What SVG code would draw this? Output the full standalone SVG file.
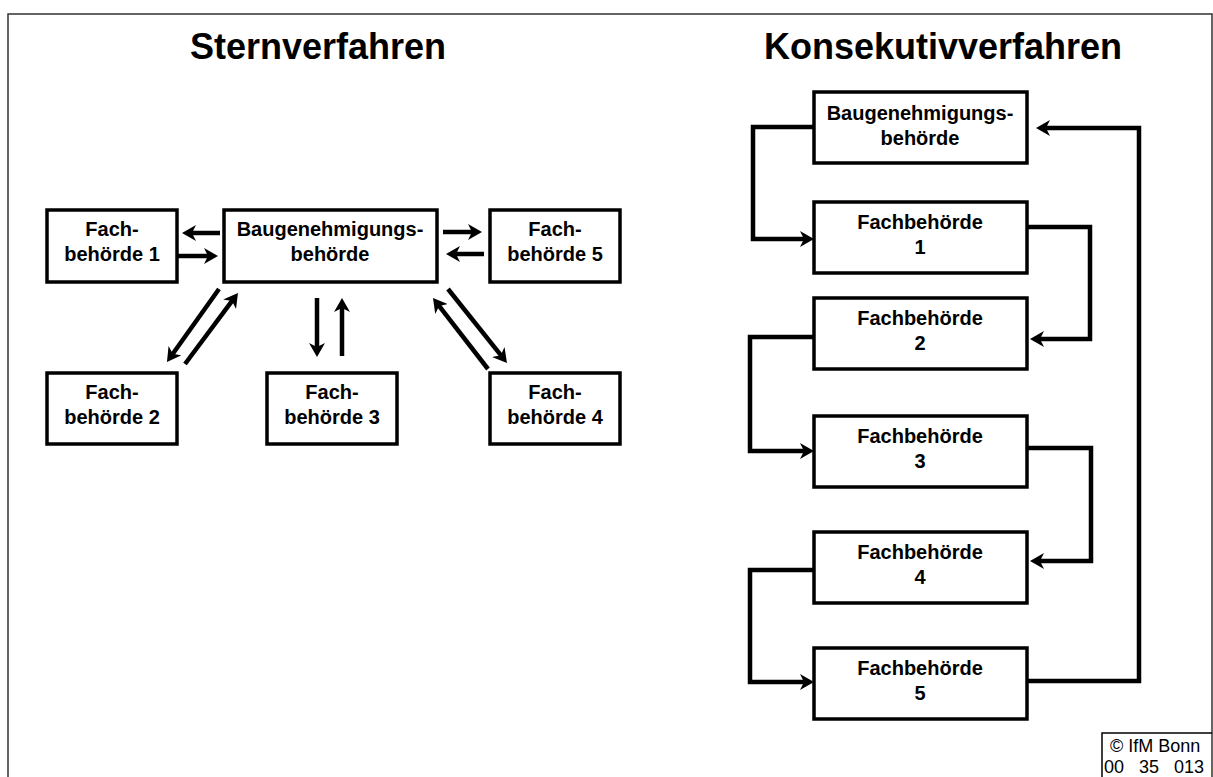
<svg xmlns="http://www.w3.org/2000/svg" width="1213" height="777" viewBox="0 0 1213 777">
<defs>
<marker id="ah" viewBox="0 0 14 16" refX="6" refY="8" markerWidth="14" markerHeight="16" markerUnits="userSpaceOnUse" orient="auto">
<path d="M0,0 L14,8 L0,16 L4,8 Z" fill="#000"/>
</marker>
<style>
.box{fill:#fff;stroke:#000;stroke-width:3.5}
.t{font-family:"Liberation Sans",Arial,sans-serif;font-weight:bold;font-size:20px;text-anchor:middle;fill:#000}
.title{font-family:"Liberation Sans",Arial,sans-serif;font-weight:bold;font-size:36px;text-anchor:middle;fill:#000}
.c{fill:none;stroke:#000;stroke-width:4.5;stroke-linejoin:miter;marker-end:url(#ah)}
.cr{font-family:"Liberation Sans",Arial,sans-serif;font-size:18px;fill:#000}
</style>
</defs>
<rect x="0" y="0" width="1213" height="777" fill="#fff"/>
<path d="M8,777 V14 H1212 V777" fill="none" stroke="#333" stroke-width="1.5"/>
<text class="title" x="318" y="59">Sternverfahren</text>
<text class="title" x="943" y="59">Konsekutivverfahren</text>

<g id="s-bau"><rect class="box" x="224" y="210" width="213" height="72"/><text class="t" x="330" y="236">Baugenehmigungs-</text><text class="t" x="330" y="261">behörde</text></g>
<g id="s-fb1"><rect class="box" x="47" y="210" width="130" height="72"/><text class="t" x="112" y="236">Fach-</text><text class="t" x="112" y="261">behörde 1</text></g>
<g id="s-fb5"><rect class="box" x="490" y="210" width="130" height="72"/><text class="t" x="555" y="236">Fach-</text><text class="t" x="555" y="261">behörde 5</text></g>
<g id="s-fb2"><rect class="box" x="47" y="373" width="130" height="71"/><text class="t" x="112" y="399">Fach-</text><text class="t" x="112" y="424">behörde 2</text></g>
<g id="s-fb3"><rect class="box" x="267" y="373" width="130" height="71"/><text class="t" x="332" y="399">Fach-</text><text class="t" x="332" y="424">behörde 3</text></g>
<g id="s-fb4"><rect class="box" x="490" y="373" width="130" height="71"/><text class="t" x="555" y="399">Fach-</text><text class="t" x="555" y="424">behörde 4</text></g>

<g id="k-bau"><rect class="box" x="814" y="92" width="213" height="71"/><text class="t" x="920" y="120">Baugenehmigungs-</text><text class="t" x="920" y="145">behörde</text></g>
<g id="k-fb1"><rect class="box" x="814" y="202" width="213" height="71"/><text class="t" x="920" y="229">Fachbehörde</text><text class="t" x="920" y="254">1</text></g>
<g id="k-fb2"><rect class="box" x="814" y="298" width="213" height="71"/><text class="t" x="920" y="325">Fachbehörde</text><text class="t" x="920" y="350">2</text></g>
<g id="k-fb3"><rect class="box" x="814" y="416" width="213" height="71"/><text class="t" x="920" y="443">Fachbehörde</text><text class="t" x="920" y="468">3</text></g>
<g id="k-fb4"><rect class="box" x="814" y="532" width="213" height="71"/><text class="t" x="920" y="559">Fachbehörde</text><text class="t" x="920" y="584">4</text></g>
<g id="k-fb5"><rect class="box" x="814" y="648" width="213" height="71"/><text class="t" x="920" y="675">Fachbehörde</text><text class="t" x="920" y="700">5</text></g>

<g id="connectors">
<line class="c" x1="220" y1="233" x2="190" y2="233"/>
<line class="c" x1="178" y1="256" x2="210" y2="256"/>
<line class="c" x1="443" y1="232" x2="474" y2="232"/>
<line class="c" x1="484" y1="254" x2="454" y2="254"/>
<line class="c" x1="219" y1="289" x2="171.6" y2="355.5"/>
<line class="c" x1="185" y1="364" x2="233.2" y2="299.4"/>
<line class="c" x1="317" y1="298" x2="317" y2="349"/>
<line class="c" x1="342" y1="356" x2="342" y2="306"/>
<line class="c" x1="448" y1="289" x2="502" y2="356.7"/>
<line class="c" x1="488" y1="369" x2="437.9" y2="304.3"/>

<polyline class="c" points="814,127 753,127 753,239 806,239"/>
<polyline class="c" points="1027,227 1090,227 1090,339 1038,339"/>
<polyline class="c" points="814,337 750,337 750,451 806,451"/>
<polyline class="c" points="1027,448 1091,448 1091,561 1038,561"/>
<polyline class="c" points="814,570 750,570 750,682 806,682"/>
<polyline class="c" points="1027,681 1139,681 1139,128 1044,128"/>
</g>

<g id="copyright">
<path d="M1102,777 V733 H1212" fill="none" stroke="#000" stroke-width="1.5"/>
<text class="cr" x="1110" y="752">© IfM Bonn</text>
<text class="cr" x="1104" y="773" xml:space="preserve">00   35   013</text>
</g>
</svg>
